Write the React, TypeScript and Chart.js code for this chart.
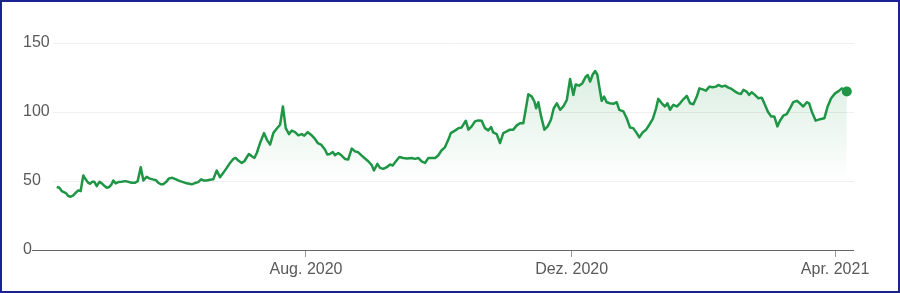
import React, { useEffect, useRef } from "react";
import { Chart, registerables } from "chart.js";

Chart.register(...registerables);

// x positions: days counted from 2020-01-01
const days = [
  98.5, 99.7, 100.8, 101.8, 102.8, 103.8, 104.9, 106.1, 107.3, 108.4,
  109.5, 110.7, 111.8, 113.0, 113.8, 114.8, 115.8, 116.9, 118.1, 119.2,
  120.2, 121.5, 122.6, 123.7, 124.5, 125.6, 126.8, 128.3, 129.9, 131.4,
  132.9, 134.5, 135.7, 137.1, 138.3, 139.8, 141.0, 142.6, 144.1, 145.2,
  146.3, 147.4, 148.7, 150.1, 151.6, 153.3, 155.1, 156.6, 158.2,
  160.5, 162.0, 163.5, 164.8, 165.8, 167.4, 168.9, 170.4, 172.0, 173.5,
  175.0, 176.6, 178.1, 179.6, 180.7, 181.9, 183.5, 184.7, 185.8, 186.8,
  188.1, 189.3, 190.4, 191.9, 193.7, 195.0, 196.5, 198.0, 199.5, 201.1,
  202.4, 203.7, 205.2, 206.4, 208.0, 209.5, 211.0, 212.2, 213.8, 215.3,
  216.8, 218.4, 219.9,
  221.7, 222.8, 224.0, 225.3, 226.3, 227.8, 229.4, 230.9, 232.4, 234.0,
  235.5, 237.0, 238.6, 240.1, 241.6, 243.2, 244.2, 245.8, 247.0, 248.5,
  250.1, 251.6, 252.8, 254.3, 255.9, 257.7, 259.5, 261.6, 263.1, 264.6,
  266.1, 267.7, 269.2, 270.7, 272.3, 273.8, 275.3, 276.8, 278.4, 279.5,
  281.4,
  283.0, 284.5, 286.4, 287.6, 289.1, 290.6, 292.1, 293.7, 295.2, 296.7,
  298.0, 299.0, 300.6, 302.1, 303.6, 305.2, 306.7, 308.2, 309.8, 311.3,
  312.8, 313.9, 315.1, 316.7, 317.9, 318.7, 319.7, 321.0, 322.5, 324.0,
  325.5, 326.8, 328.2, 329.7, 331.2, 332.8, 334.3, 335.8, 336.9, 338.4,
  339.9, 341.5, 342.4, 343.5,
  344.7, 345.8, 346.8, 347.7, 348.8, 349.9, 351.1, 352.6, 354.2, 355.7,
  356.9, 358.8, 360.3, 361.8, 363.3, 364.9, 366.1, 367.7, 369.2, 370.7,
  372.3, 373.8, 374.8, 376.4, 377.9, 379.0, 380.2, 381.7, 383.3, 384.8,
  386.3, 387.9, 389.4, 390.9, 392.5, 393.7, 395.2, 396.7, 398.3, 399.8,
  401.3, 402.4, 404.0, 405.5,
  407.0, 408.5, 410.1, 411.6, 412.8, 413.9, 415.4, 416.5, 417.7, 419.2,
  420.8, 422.3, 423.5, 425.1, 426.6, 428.1, 429.5, 430.7, 432.2, 433.8,
  435.3, 436.8, 438.4, 439.9, 441.4, 443.0, 444.1, 445.3, 447.1, 449.1,
  451.1, 452.6, 454.2, 456.0, 457.8, 459.1, 460.3, 461.4,
];

const prices = [
  45.6, 45.1, 42.7, 42.0, 41.1, 39.1, 38.6, 39.6, 41.5, 43.2,
  42.7, 54.0, 51.2, 48.7, 48.0, 49.4, 49.4, 46.3, 49.4, 48.3,
  46.8, 45.1, 45.6, 47.6, 50.4, 48.3, 49.2, 49.4, 49.9, 49.4,
  48.7, 48.7, 49.9, 60.0, 50.4, 53.0, 51.9, 51.2, 50.6, 48.7,
  47.6, 47.6, 49.2, 51.9, 52.3, 51.2, 49.9, 49.2, 48.3,
  47.6, 48.5, 49.2, 51.2, 50.4, 50.4, 50.9, 51.2, 57.6, 52.8,
  55.9, 59.5, 63.1, 66.0, 66.7, 64.8, 63.1, 64.3, 67.2, 69.6,
  67.9, 66.7, 70.3, 77.5, 84.7, 80.0, 76.4, 84.7, 87.9, 90.8,
  104.0, 88.3, 84.0, 86.5, 85.4, 83.1, 84.0, 82.9, 85.4, 83.6,
  81.1, 77.5, 76.4,
  72.8, 69.2, 69.6, 71.0, 68.7, 70.3, 68.4, 66.0, 65.6, 73.5,
  71.5, 70.8, 68.4, 66.3, 64.3, 61.5, 57.6, 62.4, 59.5, 58.8,
  60.0, 62.0, 61.2, 64.3, 67.4, 66.7, 66.3, 66.7, 66.0, 66.7,
  64.3, 63.1, 66.7, 66.7, 66.7, 68.7, 72.3, 74.4, 80.0, 84.7,
  86.5,
  88.3, 88.8, 93.7, 87.2, 89.6, 93.2, 93.9, 93.7, 88.3, 86.7,
  89.1, 85.2, 84.0, 77.5, 84.7, 85.9, 87.2, 87.2, 90.3, 91.9,
  91.9, 101.6, 112.8, 111.2, 107.6, 102.7, 107.1, 96.8, 87.2, 89.6,
  94.4, 102.7, 106.3, 101.6, 104.0, 108.8, 123.9, 112.4, 120.0, 119.1,
  120.7, 125.6, 126.8, 122.0,
  127.2, 129.7, 127.2, 118.4, 108.1, 111.2, 107.1, 106.3, 105.9, 107.1,
  101.6, 100.4, 95.5, 88.8, 88.3, 84.7, 81.6, 85.4, 87.2, 90.8,
  95.1, 102.7, 109.5, 106.3, 104.0, 106.3, 101.6, 105.2, 104.0, 106.3,
  109.2, 111.7, 106.3, 105.6, 111.2, 117.1, 116.4, 115.5, 118.4, 117.9,
  118.4, 119.6, 118.4, 119.1,
  117.7, 116.7, 114.8, 113.5, 113.1, 116.0, 114.8, 112.4, 114.3, 112.4,
  109.9, 110.4, 106.3, 100.4, 96.8, 96.8, 89.6, 93.7, 97.3, 98.4,
  102.7, 107.1, 108.1, 106.3, 104.0, 107.1, 106.3, 100.4, 93.7, 94.8,
  95.5, 104.0, 109.9, 113.5, 115.3, 117.1, 116.0, 114.8,
];

const tickDays = [213, 335, 456];
const tickLabels = ["Aug. 2020", "Dez. 2020", "Apr. 2021"];
const yTicks = [0, 50, 100, 150];

const GREEN = "#1e9646";
const FONT = "'Liberation Sans', Arial, sans-serif";

const baselinePlugin = {
  id: "baseline",
  afterDraw(chart: any) {
    const { ctx, chartArea, scales } = chart;
    const y = Math.round(scales.y.getPixelForValue(0)) + 0.5;
    ctx.save();
    ctx.strokeStyle = "#666666";
    ctx.lineWidth = 1;
    ctx.beginPath();
    ctx.moveTo(30, y);
    ctx.lineTo(chartArea.right, y);
    ctx.stroke();
    ctx.restore();
  },
};

export default function App() {
  const ref = useRef<HTMLCanvasElement | null>(null);

  useEffect(() => {
    if (!ref.current) return;
    const data = days.map((d, i) => ({ x: d, y: prices[i] }));
    const chart = new Chart(ref.current, {
      type: "line",
      data: {
        datasets: [
          {
            data,
            borderColor: GREEN,
            borderWidth: 2.5,
            borderJoinStyle: "round",
            tension: 0,
            fill: "origin",
            backgroundColor: (ctx: any) => {
              const { chart } = ctx;
              const area = chart.chartArea;
              if (!area) return "rgba(30,150,70,0.1)";
              const g = chart.ctx.createLinearGradient(0, area.top, 0, area.bottom);
              g.addColorStop(0, "rgba(30,150,70,0.20)");
              g.addColorStop(0.68, "rgba(30,150,70,0)");
              g.addColorStop(1, "rgba(30,150,70,0)");
              return g;
            },
            pointRadius: (ctx: any) => (ctx.dataIndex === prices.length - 1 ? 5 : 0),
            pointHoverRadius: 0,
            pointBackgroundColor: GREEN,
            pointBorderWidth: 0,
          },
        ],
      },
      options: {
        responsive: false,
        animation: false,
        events: [],
        layout: { padding: { left: 21, right: 44, top: 41, bottom: 0 } },
        plugins: { legend: { display: false }, tooltip: { enabled: false } },
        scales: {
          x: {
            type: "linear",
            min: 96.8,
            max: 464.7,
            afterFit: (s: any) => {
              s.height = 41;
            },
            afterBuildTicks: (s: any) => {
              s.ticks = tickDays.map((v) => ({ value: v }));
            },
            ticks: {
              autoSkip: false,
              maxRotation: 0,
              padding: 3,
              color: "#5a5a5a",
              font: { family: FONT, size: 16 },
              callback: (v: any) => {
                const i = tickDays.indexOf(Number(v));
                return i >= 0 ? tickLabels[i] : "";
              },
            },
            grid: {
              drawOnChartArea: false,
              drawTicks: true,
              tickLength: 7,
              tickColor: "#9a9a9a",
            },
            border: { display: false },
          },
          y: {
            min: 0,
            max: 150,
            afterFit: (s: any) => {
              s.width = 30;
            },
            afterBuildTicks: (s: any) => {
              s.ticks = yTicks.map((v) => ({ value: v }));
            },
            ticks: {
              crossAlign: "far",
              padding: 0,
              color: "#5a5a5a",
              font: { family: FONT, size: 16 },
            },
            grid: {
              drawTicks: false,
              color: (ctx: any) => (ctx.tick && ctx.tick.value === 0 ? "rgba(0,0,0,0)" : "#efefef"),
            },
            border: { display: false },
          },
        },
      },
      plugins: [baselinePlugin],
    });
    return () => chart.destroy();
  }, []);

  return (
    <div
      style={{
        position: "absolute",
        left: 0,
        top: 0,
        width: 900,
        height: 293,
        boxSizing: "border-box",
        border: "2px solid #1a2390",
        background: "#ffffff",
      }}
    >
      <canvas ref={ref} width={896} height={289} style={{ display: "block", width: 896, height: 289 }} />
    </div>
  );
}
